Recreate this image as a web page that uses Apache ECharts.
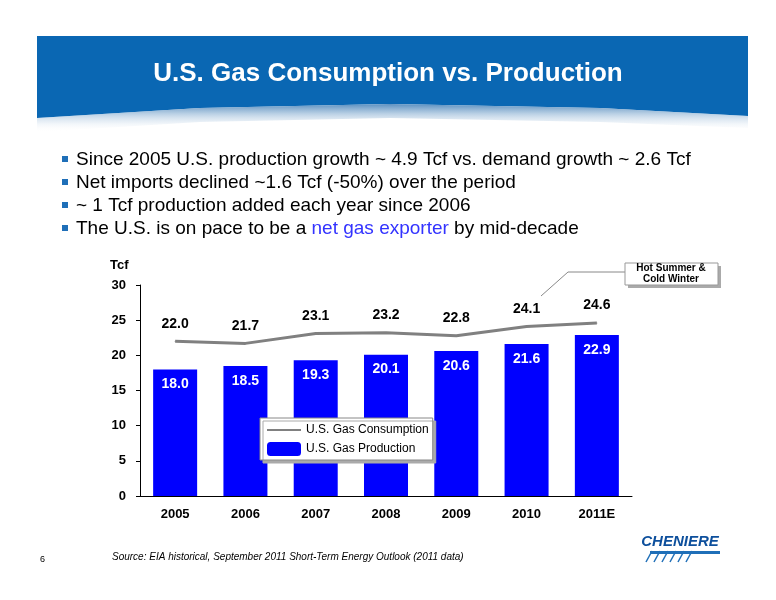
<!DOCTYPE html>
<html><head><meta charset="utf-8">
<script src="https://cdn.jsdelivr.net/npm/echarts@6/dist/echarts.min.js"></script>
<style>html,body{margin:0;padding:0;background:#fff}#c{width:776px;height:600px}</style>
</head><body><div id="c"></div>
<script>
const categories = ['2005','2006','2007','2008','2009','2010','2011E'];
const consumption = [22.0,21.7,23.1,23.2,22.8,24.1,24.6];
const production = [18.0,18.5,19.3,20.1,20.6,21.6,22.9];
const yTicks = [0,5,10,15,20,25,30];
const bullets = [
  'Since 2005 U.S. production growth ~ 4.9 Tcf vs. demand growth ~ 2.6 Tcf',
  'Net imports declined ~1.6 Tcf (-50%) over the period',
  '~ 1 Tcf production added each year since 2006'
];
const F = 'Liberation Sans, Arial, sans-serif';
const chart = echarts.init(document.getElementById('c'));
const g = [
  {type:'polygon',shape:{points:[[37,36],[748,36],[748,116],[600,108],[390,104],[200,108],[37,118]]},
   style:{fill:'#0a67b3'}},
  {type:'polygon',shape:{points:[[37,118],[200,108],[390,104],[600,108],[748,116],[748,128],[600,122],[390,118],[200,122],[37,132]]},
   style:{fill:{type:'linear',x:0,y:0,x2:0,y2:1,colorStops:[{offset:0,color:'#5a8fc0'},{offset:1,color:'rgba(255,255,255,0)'}]}}},
  {type:'text',x:388,y:74,style:{text:'U.S. Gas Consumption vs. Production',fill:'#fff',font:'bold 26px '+F,align:'center',verticalAlign:'middle'}},
];
bullets.forEach((b,i)=>{
  g.push({type:'rect',shape:{x:62,y:156+i*23,width:6,height:6},style:{fill:'#1f6fb8'}});
  g.push({type:'text',x:76,y:160+i*23,style:{text:b,fill:'#000',font:'19px '+F,verticalAlign:'middle'}});
});
g.push({type:'rect',shape:{x:62,y:225,width:6,height:6},style:{fill:'#1f6fb8'}});
g.push({type:'text',x:76,y:229,style:{rich:{a:{fill:'#000',font:'19px '+F},b:{fill:'#3333ff',font:'19px '+F}},
  text:'{a|The U.S. is on pace to be a }{b|net gas exporter}{a| by mid-decade}',verticalAlign:'middle'}});
g.push({type:'text',x:110,y:265,style:{text:'Tcf',fill:'#000',font:'bold 13px '+F,verticalAlign:'middle'}});
g.push({type:'polyline',shape:{points:[[625,272],[568,272],[541,296]]},style:{stroke:'#888',lineWidth:1,fill:null}});
g.push({type:'rect',shape:{x:628,y:266,width:93,height:22},style:{fill:'#aaa'}});
g.push({type:'rect',shape:{x:625,y:263,width:93,height:22},style:{fill:'#fff',stroke:'#999',lineWidth:1}});
g.push({type:'text',x:671,y:274,style:{text:'Hot Summer &\nCold Winter',fill:'#000',font:'bold 10px '+F,align:'center',verticalAlign:'middle',lineHeight:11}});
g.push({type:'text',x:112,y:557,style:{text:'Source: EIA historical, September 2011 Short-Term Energy Outlook (2011 data)',fill:'#000',font:'italic 10px '+F,verticalAlign:'middle'}});
g.push({type:'text',x:40,y:560,style:{text:'6',fill:'#000',font:'9px '+F,verticalAlign:'middle'}});
g.push({type:'text',x:680,y:542,style:{text:'CHENIERE',fill:'#0d4f9c',font:'italic bold 15px '+F,align:'center',verticalAlign:'middle'}});
for(let i=0;i<6;i++) g.push({type:'line',shape:{x1:646+i*8,y1:562,x2:652+i*8,y2:551},style:{stroke:'#1f6fb8',lineWidth:1.5}});
g.push({type:'rect',shape:{x:650,y:551,width:70,height:3},style:{fill:'#1f6fb8'}});
chart.setOption({
  animation:false,
  graphic:g,
  grid:{left:140,right:144,top:285,bottom:104},
  legend:{left:260,top:418,orient:'vertical',itemWidth:34,itemHeight:14,itemGap:6,padding:[6,4,4,6],
    backgroundColor:'#fff',borderColor:'#888',borderWidth:1,shadowColor:'#aaa',shadowOffsetX:3,shadowOffsetY:3,shadowBlur:0,
    textStyle:{fontFamily:F,fontSize:12,color:'#000'},
    data:[{name:'U.S. Gas Consumption',itemStyle:{opacity:0}},'U.S. Gas Production']},
  xAxis:{type:'category',data:categories,axisTick:{show:false},axisLine:{lineStyle:{color:'#000'}},
    axisLabel:{fontFamily:F,fontWeight:'bold',fontSize:13,color:'#000',margin:12}},
  yAxis:{type:'value',min:0,max:30,interval:5,splitLine:{show:false},axisLine:{show:true,lineStyle:{color:'#000'}},
    axisTick:{show:true,inside:false,length:4,lineStyle:{color:'#000'}},
    axisLabel:{fontFamily:F,fontWeight:'bold',fontSize:13,color:'#000',margin:14,formatter:v=>yTicks.includes(v)?String(v):''}},
  series:[
    {name:'U.S. Gas Consumption',type:'line',data:consumption,symbol:'circle',symbolSize:1,showSymbol:true,z:3,
     lineStyle:{color:'#808080',width:3},itemStyle:{color:'#808080'},
     label:{show:true,position:'top',distance:10,fontFamily:F,fontWeight:'bold',fontSize:14,color:'#000',formatter:p=>p.value.toFixed(1)}},
    {name:'U.S. Gas Production',type:'bar',data:production,barWidth:44,itemStyle:{color:'#0000ff'},
     label:{show:true,position:'insideTop',distance:8,fontFamily:F,fontWeight:'bold',fontSize:14,color:'#fff',formatter:p=>p.value.toFixed(1)}}
  ]
});
</script></body></html>
